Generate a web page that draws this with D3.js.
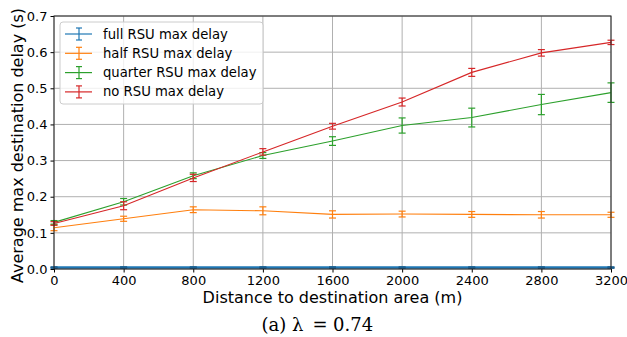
<!DOCTYPE html>
<html>
<head>
<meta charset="utf-8">
<script src="https://cdn.jsdelivr.net/npm/d3@7"></script>
<style>
  body { margin: 0; background: #fff; }
  svg text { font-family: "DejaVu Sans", sans-serif; }
</style>
</head>
<body>
<div id="chart"></div>
<script>
// distances (m)
const distances = [0, 400, 800, 1200, 1600, 2000, 2400, 2800, 3200]
const xTicks = [0, 400, 800, 1200, 1600, 2000, 2400, 2800, 3200]
const yTicks = [0.0, 0.1, 0.2, 0.3, 0.4, 0.5, 0.6, 0.7]

const seriesNames = ["full RSU max delay", "half RSU max delay", "quarter RSU max delay", "no RSU max delay"]
const seriesColors = ["#1f77b4", "#ff7f0e", "#2ca02c", "#d62728"]

const fullMean = [0.004, 0.004, 0.004, 0.004, 0.004, 0.004, 0.004, 0.004, 0.004]
const fullErr = [0.001, 0.001, 0.001, 0.001, 0.001, 0.001, 0.001, 0.001, 0.001]
const halfMean = [0.114, 0.139, 0.164, 0.161, 0.151, 0.152, 0.151, 0.150, 0.150]
const halfErr = [0.008, 0.007, 0.008, 0.011, 0.010, 0.008, 0.008, 0.009, 0.007]
const quarterMean = [0.129, 0.186, 0.258, 0.314, 0.354, 0.397, 0.419, 0.455, 0.488]
const quarterErr = [0.005, 0.009, 0.008, 0.008, 0.012, 0.021, 0.026, 0.028, 0.027]
const noMean = [0.126, 0.175, 0.252, 0.324, 0.395, 0.462, 0.544, 0.598, 0.627]
const noErr = [0.005, 0.011, 0.010, 0.009, 0.008, 0.011, 0.011, 0.009, 0.006]

const means = [fullMean, halfMean, quarterMean, noMean]
const errs = [fullErr, halfErr, quarterErr, noErr]

const W = 627, H = 337
const margin = {top: 16, right: 16, bottom: 68, left: 54}
const width = W - margin.left - margin.right
const height = H - margin.top - margin.bottom

const svg = d3.select("#chart")
    .append("svg")
        .attr("width", W)
        .attr("height", H)

const g = svg.append("g")
    .attr("transform", `translate(${margin.left}, ${margin.top})`)

const x = d3.scaleLinear().domain([0, 3200]).range([0, width])
const y = d3.scaleLinear().domain([0, 0.7]).range([height, 0])

// grid
g.append("g")
    .selectAll("line")
    .data(xTicks)
    .enter().append("line")
        .attr("x1", d => x(d)).attr("x2", d => x(d))
        .attr("y1", 0).attr("y2", height)
        .attr("stroke", "#b0b0b0").attr("stroke-width", 1)
g.append("g")
    .selectAll("line")
    .data(yTicks)
    .enter().append("line")
        .attr("x1", 0).attr("x2", width)
        .attr("y1", d => y(d)).attr("y2", d => y(d))
        .attr("stroke", "#b0b0b0").attr("stroke-width", 1)

// series
const line = d3.line()
    .x((d, i) => x(distances[i]))
    .y(d => y(d))

means.forEach((m, s) => {
    const col = seriesColors[s]
    const sg = g.append("g")
    sg.append("path")
        .datum(m)
        .attr("fill", "none")
        .attr("stroke", col)
        .attr("stroke-width", s === 0 ? 2.6 : 1.1)
        .attr("d", line)
    const pts = m.map((v, i) => ({x: distances[i], v: v, e: errs[s][i]}))
    sg.selectAll(".eb")
        .data(pts)
        .enter().append("line")
            .attr("x1", d => x(d.x)).attr("x2", d => x(d.x))
            .attr("y1", d => y(d.v - d.e)).attr("y2", d => y(d.v + d.e))
            .attr("stroke", col).attr("stroke-width", 1.2)
    ;[-1, 1].forEach(sign => {
        sg.selectAll(".cap" + sign)
            .data(pts)
            .enter().append("line")
                .attr("x1", d => x(d.x) - 3.5).attr("x2", d => x(d.x) + 3.5)
                .attr("y1", d => y(d.v + sign * d.e)).attr("y2", d => y(d.v + sign * d.e))
                .attr("stroke", s === 0 ? "#1a5f90" : col).attr("stroke-width", s === 0 ? 2 : 1.2)
    })
})

// axes
const xAxis = g.append("g")
    .attr("transform", `translate(0, ${height})`)
    .call(d3.axisBottom(x).tickValues(xTicks).tickFormat(d3.format("d")).tickSize(3.5).tickPadding(3))
const yAxis = g.append("g")
    .call(d3.axisLeft(y).tickValues(yTicks).tickFormat(d3.format(".1f")).tickSize(3.5).tickPadding(3))
;[xAxis, yAxis].forEach(a => {
    a.select(".domain").remove()
    a.selectAll("text").attr("font-size", 13).attr("fill", "#000").attr("font-family", "DejaVu Sans")
    a.selectAll("line").attr("stroke", "#000")
})

// frame
g.append("rect")
    .attr("x", 0).attr("y", 0)
    .attr("width", width).attr("height", height)
    .attr("fill", "none").attr("stroke", "#222").attr("stroke-width", 1)

// labels
svg.append("text")
    .attr("x", margin.left + width / 2)
    .attr("y", 303)
    .attr("text-anchor", "middle")
    .attr("font-size", 16)
    .text("Distance to destination area (m)")
svg.append("text")
    .attr("transform", `translate(23, ${margin.top + height / 2 + 3}) rotate(-90)`)
    .attr("text-anchor", "middle")
    .attr("font-size", 16)
    .text("Average max destination delay (s)")

// caption: pieces placed like the LaTeX math spacing
const capParts = [["(a)", 261.5], ["λ", 292], ["=", 312.5], ["0.74", 333]]
capParts.forEach(([t, px]) => {
    svg.append("text")
        .attr("x", px)
        .attr("y", 331)
        .attr("font-size", 18)
        .style("font-family", "'DejaVu Serif', serif")
        .text(t)
})

// legend
const lg = g.append("g").attr("transform", "translate(6, 6)")
lg.append("rect")
    .attr("width", 203).attr("height", 82)
    .attr("rx", 3)
    .attr("fill", "#fff").attr("fill-opacity", 0.8)
    .attr("stroke", "#ccc")
seriesNames.forEach((name, i) => {
    const yy = 12 + i * 19.3
    const col = seriesColors[i]
    lg.append("line").attr("x1", 5).attr("x2", 32).attr("y1", yy).attr("y2", yy)
        .attr("stroke", col).attr("stroke-width", 1.2)
    lg.append("line").attr("x1", 19).attr("x2", 19).attr("y1", yy - 6).attr("y2", yy + 6)
        .attr("stroke", col).attr("stroke-width", 1.2)
    lg.append("line").attr("x1", 16).attr("x2", 22).attr("y1", yy - 6).attr("y2", yy - 6)
        .attr("stroke", col).attr("stroke-width", 1.2)
    lg.append("line").attr("x1", 16).attr("x2", 22).attr("y1", yy + 6).attr("y2", yy + 6)
        .attr("stroke", col).attr("stroke-width", 1.2)
    lg.append("text").attr("x", 43).attr("y", yy + 4.5)
        .attr("font-size", 13.2)
        .text(name)
})
</script>
</body>
</html>
